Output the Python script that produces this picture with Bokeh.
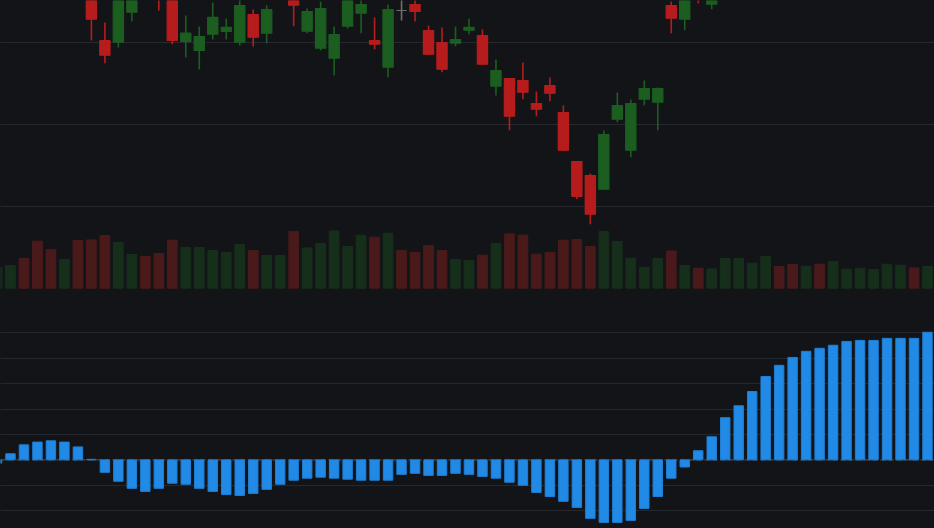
from bokeh.plotting import figure
from bokeh.models import Range1d, FixedTicker, Grid, Span, ColumnDataSource, CDSView, BooleanFilter
from bokeh.layouts import column
from bokeh.embed import file_html
from bokeh.resources import INLINE

# ---- data ----
opens = [131.2, 132.2, 133.6, 132.8, 131.3, 130.5, 131.7, 128.4, 120.21, 120.00,
         123.66, 129.8, 128.92, 128.31, 120.09, 118.99, 120.98, 121.31, 120.00, 123.38,
         121.10, 127.8, 127.07, 121.34, 119.27, 118.05, 121.95, 123.54, 120.21, 116.95,
         123.87, 124.60, 121.43, 119.97, 119.88, 121.47, 120.82, 114.63, 115.57, 115.33,
         112.52, 114.72, 111.43, 105.45, 103.74, 102.07, 110.61, 106.83, 113.05, 112.68,
         124.48, 122.81, 127.55, 124.64, 128.4, 129.6, 130.9, 132.1, 133.6, 132.9,
         132.2, 133.5, 133.0, 134.2, 134.9, 135.3, 135.8, 136.6, 137.4, 136.7]
highs = [132.6, 133.8, 134.2, 133.1, 131.8, 132.0, 132.2, 129.0, 122.41, 126.30,
         128.31, 130.3, 129.53, 128.80, 123.26, 121.92, 124.85, 122.89, 125.83, 123.99,
         124.48, 130.0, 127.55, 124.11, 124.97, 121.92, 127.07, 126.06, 123.02, 124.60,
         126.06, 126.06, 122.04, 121.80, 121.92, 122.89, 121.55, 117.89, 115.63, 117.53,
         113.99, 115.70, 112.28, 105.51, 103.98, 109.23, 113.87, 113.01, 115.33, 114.48,
         124.97, 127.07, 128.04, 127.80, 130.1, 131.4, 132.6, 133.9, 134.2, 133.3,
         133.8, 134.0, 134.6, 135.1, 135.7, 136.2, 137.0, 137.6, 137.9, 138.4]
lows = [130.8, 131.9, 132.4, 130.9, 130.0, 130.1, 130.2, 120.21, 117.44, 119.36,
        122.56, 127.6, 123.87, 119.76, 118.14, 116.67, 120.33, 120.33, 119.60, 119.48,
        119.88, 127.4, 121.95, 121.10, 118.99, 115.94, 121.67, 121.10, 119.15, 115.73,
        122.65, 122.53, 118.44, 116.34, 119.51, 120.98, 117.22, 113.50, 109.27, 113.05,
        110.97, 112.80, 106.70, 100.85, 97.80, 102.03, 110.24, 105.97, 112.32, 109.27,
        121.10, 121.47, 124.76, 124.03, 127.9, 129.2, 130.5, 131.7, 132.4, 131.6,
        131.9, 132.6, 132.7, 133.8, 134.4, 135.0, 135.5, 136.2, 136.3, 136.5]
closes = [132.3, 133.5, 132.7, 131.2, 130.4, 131.6, 130.5, 122.81, 118.42, 125.07,
          126.82, 128.2, 126.46, 120.21, 121.10, 120.70, 123.02, 121.80, 124.48, 120.61,
          123.99, 129.4, 124.52, 123.75, 124.11, 120.94, 126.46, 124.60, 119.76, 123.99,
          123.87, 123.75, 118.54, 116.71, 120.33, 121.80, 117.32, 116.55, 110.97, 113.90,
          111.83, 113.78, 106.83, 101.21, 99.02, 108.74, 112.28, 112.52, 114.35, 114.35,
          122.93, 126.46, 126.33, 127.31, 129.8, 131.0, 132.2, 133.5, 132.8, 132.1,
          133.4, 132.9, 134.3, 134.8, 135.4, 135.9, 136.7, 137.3, 136.6, 138.1]
volumes = [2.10, 2.27, 2.97, 4.70, 3.87, 2.87, 4.77, 4.83, 5.27, 4.57,
           3.37, 3.17, 3.47, 4.80, 4.07, 4.07, 3.77, 3.57, 4.37, 3.77,
           3.27, 3.27, 5.67, 4.03, 4.47, 5.73, 4.17, 5.30, 5.10, 5.50,
           3.77, 3.57, 4.27, 3.77, 2.87, 2.77, 3.30, 4.47, 5.43, 5.30,
           3.40, 3.57, 4.80, 4.87, 4.17, 5.67, 4.67, 3.00, 2.07, 2.97,
           3.73, 2.27, 2.00, 1.93, 2.97, 2.97, 2.50, 3.17, 2.17, 2.37,
           2.20, 2.40, 2.67, 1.90, 2.00, 1.87, 2.40, 2.30, 2.03, 2.17]
hist = [-0.13, 0.24, 0.59, 0.70, 0.75, 0.70, 0.51, 0.02, -0.49, -0.84,
        -1.12, -1.24, -1.12, -0.92, -0.96, -1.12, -1.24, -1.36, -1.40, -1.32,
        -1.16, -0.96, -0.80, -0.72, -0.68, -0.72, -0.76, -0.80, -0.80, -0.80,
        -0.57, -0.53, -0.61, -0.61, -0.53, -0.57, -0.65, -0.72, -0.88, -1.00,
        -1.28, -1.44, -1.63, -1.87, -2.30, -2.46, -2.46, -2.38, -1.91, -1.44,
        -0.72, -0.28, 0.36, 0.91, 1.66, 2.13, 2.69, 3.28, 3.72, 4.03,
        4.27, 4.39, 4.51, 4.66, 4.70, 4.70, 4.78, 4.78, 4.78, 5.02]
price_grid = [100, 110, 120]
hist_grid = [-2, -1, 1, 2, 3, 4, 5]

# ---- styles ----
BG = "#131418"
GRID = "#26282d"
UP, DOWN, FLAT = "#1b5e20", "#b71c1c", "#6e6e6e"
UPV, DOWNV = "#162f1b", "#4a1a1b"
HIST = "#2189e6"

PRICE_LO, PRICE_HI = 88.5, 125.09   # visible price window of the top pane

n = len(opens)
idx = list(range(n))
ccol = [UP if c > o else (DOWN if c < o else FLAT) for o, c in zip(opens, closes)]
vcol = [UPV if c > o else DOWNV for o, c in zip(opens, closes)]
src = ColumnDataSource(dict(
    x=idx, o=opens, h=highs, l=lows, c=closes,
    top=[max(o, c) for o, c in zip(opens, closes)],
    bot=[min(o, c) for o, c in zip(opens, closes)],
    ccol=ccol, vcol=vcol, vol=volumes, hist=hist,
))
# skip marks lying wholly above the visible window (they would only leave a sliver at the edge)
wick_view = CDSView(filter=BooleanFilter([l < PRICE_HI for l in lows]))
body_view = CDSView(filter=BooleanFilter([min(o, c) < PRICE_HI for o, c in zip(opens, closes)]))

W, H_TOP, H_BOT = 934, 300, 228
xr = Range1d(0.26, 69.52)

top = figure(width=W, height=H_TOP, x_range=xr, y_range=Range1d(PRICE_LO, PRICE_HI),
             x_axis_type=None, y_axis_type=None, output_backend="svg",
             toolbar_location=None, min_border=0, background_fill_color=BG,
             border_fill_color=BG, outline_line_color=None)
top.extra_y_ranges = {"vol": Range1d(-1.23, 28.77)}
top.add_layout(Grid(dimension=1, ticker=FixedTicker(ticks=price_grid),
                    grid_line_color=GRID, grid_line_width=1))
top.vbar(x="x", top="vol", bottom=0, width=0.72, source=src, y_range_name="vol",
         fill_color="vcol", line_color="vcol", line_width=1)
top.segment(x0="x", y0="h", x1="x", y1="l", source=src, view=wick_view,
            line_color="ccol", line_width=1.6)
top.vbar(x="x", top="top", bottom="bot", width=0.76, source=src, view=body_view,
         fill_color="ccol", line_color="ccol", line_width=1.2)

bot = figure(width=W, height=H_BOT, x_range=xr, y_range=Range1d(-2.70, 6.27),
             x_axis_type=None, y_axis_type=None, output_backend="svg",
             toolbar_location=None, min_border=0, background_fill_color=BG,
             border_fill_color=BG, outline_line_color=None)
bot.add_layout(Grid(dimension=1, ticker=FixedTicker(ticks=hist_grid),
                    grid_line_color=GRID, grid_line_width=1))
bot.add_layout(Span(location=0, dimension="width", line_color="#3a3b3e",
                    line_dash="5 3", line_width=1.6, level="underlay"))
bot.vbar(x="x", top="hist", bottom=0, width=0.70, source=src,
         fill_color=HIST, line_color="#1f7fd4", line_width=1)

layout = column(top, bot, spacing=0, styles={"background-color": BG})

html = file_html(layout, INLINE, title="chart")
html = html.replace("<body>", '<body style="margin:0;background:%s;overflow:hidden;">' % BG, 1)
open("out.html", "w").write(html)
